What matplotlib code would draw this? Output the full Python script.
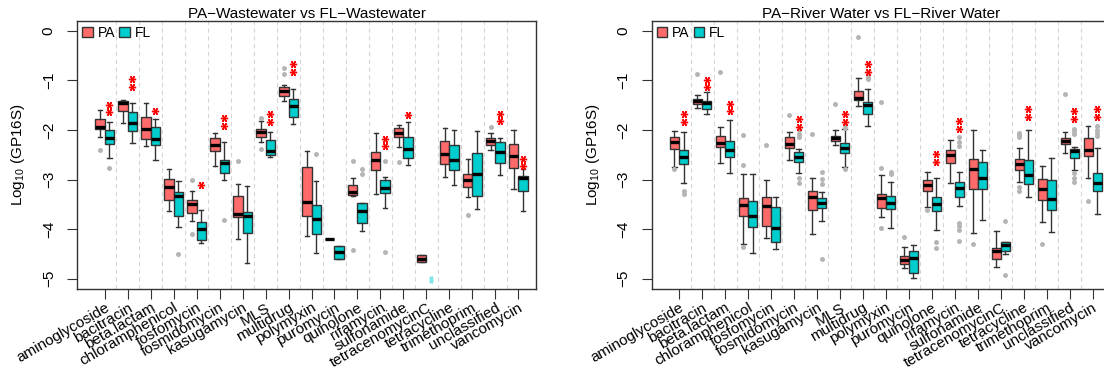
"""
Boxplots of ARG type abundance (log10 copies per 16S), particle-attached (PA)
vs free-living (FL) fractions, wastewater and river water side by side.
"""

import numpy as np
import matplotlib

matplotlib.use("Agg")
import matplotlib.pyplot as plt  # noqa: E402
from matplotlib.patches import Patch  # noqa: E402
from matplotlib import transforms  # noqa: E402

plt.rcParams["font.family"] = ["Liberation Sans", "DejaVu Sans"]
plt.rcParams["mathtext.fontset"] = "custom"
plt.rcParams["mathtext.rm"] = "Liberation Sans"

CATEGORIES = ["aminoglycoside", "bacitracin", "beta.lactam", "chloramphenicol",
              "fosfomycin", "fosmidomycin", "kasugamycin", "MLS", "multidrug",
              "polymyxin", "puromycin", "quinolone", "rifamycin", "sulfonamide",
              "tetracenomycinC", "tetracycline", "trimethoprim", "unclassified",
              "vancomycin"]

nan = np.nan

# ---- Wastewater, PA ----
W_PA_MED = [-1.94, -1.46, -1.97, -3.14, -3.49, -2.31, -3.70, -2.03, -1.22, -3.45,
            -4.19, -3.24, -2.61, -2.05, -4.60, -2.48, -3.01, -2.22, -2.52]
W_PA_Q1 = [-1.98, -1.61, -2.19, -3.42, -3.68, -2.43, -3.76, -2.13, -1.32, -3.73,
           -4.19, -3.30, -2.81, -2.15, -4.67, -2.69, -3.15, -2.30, -2.77]
W_PA_Q3 = [-1.77, -1.41, -1.73, -2.99, -3.42, -2.17, -3.34, -1.98, -1.13, -2.75,
           -4.19, -3.11, -2.44, -1.95, -4.52, -2.23, -2.88, -2.17, -2.29]
W_PA_LO = [-2.13, -1.86, -2.32, -3.63, -3.83, -2.73, -4.19, -2.25, -1.41, -4.13,
           -4.19, -3.32, -3.28, -2.34, -4.67, -2.95, -3.35, -2.40, -3.18]
W_PA_HI = [-1.59, -1.40, -1.45, -2.79, -3.22, -2.05, -3.09, -1.82, -1.10, -2.42,
           -4.19, -2.96, -2.05, -1.90, -4.52, -1.95, -2.59, -2.05, -1.99]
W_PA_OUT = [[-2.41], [], [], [], [-3.00, -4.10], [], [-2.63], [-1.75, -2.38],
            [-0.74, -0.87], [], [], [-2.63, -4.41], [], [-2.64], [], [], [-3.71],
            [-1.94], []]

# ---- Wastewater, FL (tetracenomycinC has no box) ----
W_FL_MED = [-2.16, -1.85, -2.19, -3.34, -4.00, -2.66, -3.73, -2.43, -1.51, -3.79,
            -4.46, -3.63, -3.17, -2.39, nan, -2.60, -2.88, -2.44, -2.97]
W_FL_Q1 = [-2.29, -2.01, -2.31, -3.73, -4.21, -2.87, -4.08, -2.50, -1.74, -4.10,
           -4.60, -3.87, -3.26, -2.57, nan, -2.80, -3.34, -2.67, -3.22]
W_FL_Q3 = [-1.99, -1.64, -1.94, -3.24, -3.86, -2.61, -3.65, -2.21, -1.37, -3.51,
           -4.33, -3.48, -3.01, -2.13, nan, -2.31, -2.46, -2.25, -2.92]
W_FL_LO = [-2.56, -2.27, -2.61, -3.96, -4.28, -3.00, -4.68, -2.54, -1.88, -4.48,
           -4.60, -4.03, -3.57, -2.71, nan, -3.10, -3.60, -2.91, -3.63]
W_FL_HI = [-1.83, -1.46, -1.78, -3.03, -3.61, -2.25, -3.12, -2.03, -1.18, -3.02,
           -4.33, -3.47, -2.95, -1.84, nan, -2.00, -2.01, -2.17, -2.79]
W_FL_OUT = [[-2.77], [], [], [-4.51], [], [-3.81], [], [], [], [-2.48], [],
            [-2.79, -2.89], [-2.62, -4.45], [], [], [], [], [], []]

W_SIG = ["**", "**", "*", "", "*", "**", "", "**", "**", "", "", "", "**", "*",
         "", "", "", "**", "**"]
W_SIG_Y = [-1.57, -1.05, -1.61, nan, -3.11, -1.84, nan, -1.76, -0.75, nan, nan,
           nan, -2.25, -1.70, nan, nan, nan, -1.75, -2.65]

# ---- River water, PA ----
R_PA_MED = [-2.25, -1.42, -2.26, -3.51, -3.53, -2.28, -3.36, -2.16, -1.36, -3.38,
            -4.63, -3.10, -2.50, -2.78, -4.43, -2.69, -3.18, -2.22, -2.40]
R_PA_Q1 = [-2.38, -1.47, -2.35, -3.73, -3.94, -2.37, -3.62, -2.22, -1.40, -3.57,
           -4.71, -3.23, -2.66, -3.19, -4.60, -2.80, -3.41, -2.29, -2.53]
R_PA_Q3 = [-2.13, -1.37, -2.11, -3.37, -3.35, -2.15, -3.23, -2.11, -1.21, -3.29,
           -4.54, -3.01, -2.40, -2.58, -4.37, -2.58, -2.98, -2.16, -2.17]
R_PA_LO = [-2.74, -1.55, -2.67, -4.29, -4.17, -2.60, -4.09, -2.31, -1.52, -3.75,
           -4.78, -3.55, -3.07, -4.08, -4.77, -3.04, -3.85, -2.47, -2.97]
R_PA_HI = [-2.01, -1.29, -1.93, -2.89, -3.00, -2.03, -2.96, -1.99, -0.94, -2.91,
           -4.35, -2.84, -2.21, -1.99, -4.04, -2.37, -2.72, -2.04, -1.91]
R_PA_OUT = [[-2.79], [-0.87], [-0.83], [-2.09, -2.70, -4.35], [-2.31], [-1.69],
            [-2.07], [-1.47], [-0.13], [-1.44, -2.77, -3.98], [-4.15], [-3.61],
            [], [-4.29], [], [-2.05, -2.10, -2.15, -3.14, -3.22], [-4.30],
            [-1.27], [-3.43]]

# ---- River water, FL ----
R_FL_MED = [-2.54, -1.46, -2.40, -3.73, -3.98, -2.54, -3.48, -2.36, -1.50, -3.48,
            -4.59, -3.50, -3.16, -2.97, -4.32, -2.91, -3.39, -2.42, -3.07]
R_FL_Q1 = [-2.69, -1.57, -2.54, -3.96, -4.25, -2.64, -3.58, -2.46, -1.67, -3.59,
           -4.88, -3.63, -3.36, -3.18, -4.43, -3.08, -3.62, -2.56, -3.23]
R_FL_Q3 = [-2.40, -1.42, -2.23, -3.43, -3.56, -2.45, -3.38, -2.26, -1.44, -3.32,
           -4.43, -3.36, -3.04, -2.64, -4.26, -2.61, -3.01, -2.38, -2.87]
R_FL_LO = [-3.06, -1.68, -2.87, -4.48, -4.40, -2.87, -3.84, -2.75, -1.91, -3.98,
           -4.98, -4.02, -3.54, -3.82, -4.51, -3.36, -4.05, -2.81, -3.69]
R_FL_HI = [-2.04, -1.23, -1.80, -2.89, -3.36, -2.38, -3.24, -1.97, -1.18, -3.04,
           -4.31, -2.96, -2.85, -2.40, -4.26, -1.99, -2.57, -2.35, -2.37]
R_FL_OUT = [[-3.22, -3.28], [], [], [], [], [-2.00, -2.07, -2.13, -2.97, -3.06],
            [-2.85, -2.99, -3.08, -4.60], [-1.90, -1.95, -2.79], [-0.92, -0.98],
            [-2.84, -2.89], [], [-4.26, -4.38],
            [-2.15, -2.25, -2.32, -3.88, -3.93, -4.02, -4.23], [], [-3.83, -4.93],
            [], [], [-1.97, -2.01, -2.07, -2.87, -2.96, -3.05],
            [-1.92, -1.99, -2.05, -2.12]]

R_SIG = ["**", "**", "**", "", "", "**", "", "**", "**", "", "", "**", "**", "",
         "", "**", "", "**", "**"]
R_SIG_Y = [-1.76, -1.06, -1.55, nan, nan, -1.86, nan, -1.76, -0.75, nan, nan,
           -2.56, -1.90, nan, nan, -1.66, nan, -1.70, -1.66]

# odd little cyan mark under tetracenomycinC FL in the wastewater panel
W_EXTRA_CAT = 14
W_EXTRA_Y = [-4.98, -5.05]

PA_COLOR = "#FF6A6A"
FL_COLOR = "#00CDCD"
EDGE = "#333333"

# figure geometry in pixels (reference is 1104 x 368)
FIG_W, FIG_H = 1104, 368
AX_W, AX_TOP, AX_BOT = 459, 21, 288.7
LEFT_X = [77.3, 651.7]


def box_stats(med, q1, q3, lo, hi, out):
    stats, idx = [], []
    for i in range(len(med)):
        if np.isnan(med[i]):
            continue
        stats.append(dict(med=med[i], q1=q1[i], q3=q3[i], whislo=lo[i],
                          whishi=hi[i], fliers=out[i]))
        idx.append(i)
    return stats, idx


def draw_boxes(ax, stats, pos, color):
    ax.bxp(stats, positions=pos, widths=0.4, patch_artist=True,
           manage_ticks=False, capwidths=0.2,
           boxprops=dict(facecolor=color, edgecolor=EDGE, lw=1.0),
           medianprops=dict(color="black", lw=2.4, solid_capstyle="butt"),
           whiskerprops=dict(color=EDGE, lw=1.0),
           capprops=dict(color=EDGE, lw=1.0),
           flierprops=dict(marker="o", mfc="#b5b5b5", mec="none", ms=3.6))


def draw_stars(ax, labels, ys, dx=0.2, color="red", ms=5.2, step=0.075):
    for i, (lab, y) in enumerate(zip(labels, ys)):
        if not lab:
            continue
        n = len(lab)
        offs = (np.arange(n) - (n - 1) / 2) * 2 * step
        ax.plot([i + dx] * n, y + offs, ls="none", marker=(6, 2, 90), ms=ms,
                mew=1.0, color=color, zorder=5)


def panel(ax, title, pa, fl, sig, sig_y):
    n = len(CATEGORIES)
    for b in np.arange(n - 1) + 0.5:
        ax.axvline(b, color="#d6d6d6", lw=0.8, ls=(0, (4, 3)), zorder=0)

    st, idx = box_stats(*pa)
    draw_boxes(ax, st, [i - 0.2 for i in idx], PA_COLOR)
    st, idx = box_stats(*fl)
    draw_boxes(ax, st, [i + 0.2 for i in idx], FL_COLOR)
    draw_stars(ax, sig, sig_y)

    ax.set_xlim(-1.19, 18.78)
    ax.set_ylim(-5.2, 0.2)
    ax.set_yticks([0, -1, -2, -3, -4, -5])
    ax.set_xticks(range(n))
    ax.set_xticklabels(CATEGORIES, rotation=30, ha="right",
                       rotation_mode="anchor", fontsize=11)
    shift = transforms.ScaledTranslation(4 / 100, 0, ax.figure.dpi_scale_trans)
    for lab in ax.get_xticklabels():
        lab.set_transform(lab.get_transform() + shift)
    ax.tick_params(axis="x", length=7, width=0.8, color=EDGE, pad=1.5)
    ax.tick_params(axis="y", length=7, width=0.8, color=EDGE, pad=8.5,
                   labelrotation=90, labelsize=11)
    for lab in ax.get_yticklabels():
        lab.set_va("center")
    for s in ax.spines.values():
        s.set_color(EDGE)
        s.set_linewidth(1.0)

    ax.set_title(title, fontsize=11, pad=2.5)
    ax.set_ylabel(r"Log$_{\mathregular{10}}$ (GP16S)", fontsize=11)
    ax.yaxis.set_label_coords(-50 / AX_W, 0.5)

    handles = [Patch(facecolor=PA_COLOR, edgecolor=EDGE, lw=1.0, label="PA"),
               Patch(facecolor=FL_COLOR, edgecolor=EDGE, lw=1.0, label="FL")]
    ax.legend(handles=handles, loc="upper left", ncol=2, frameon=False,
              fontsize=10, handlelength=0.75, handleheight=0.75,
              handletextpad=0.35, columnspacing=0.3, borderaxespad=0.15,
              borderpad=0.2)


def main():
    fig = plt.figure(figsize=(FIG_W / 100, FIG_H / 100), dpi=100)
    axes = [fig.add_axes([x / FIG_W, 1 - AX_BOT / FIG_H, AX_W / FIG_W,
                          (AX_BOT - AX_TOP) / FIG_H]) for x in LEFT_X]

    panel(axes[0], "PA\u2212Wastewater vs FL\u2212Wastewater",
          (W_PA_MED, W_PA_Q1, W_PA_Q3, W_PA_LO, W_PA_HI, W_PA_OUT),
          (W_FL_MED, W_FL_Q1, W_FL_Q3, W_FL_LO, W_FL_HI, W_FL_OUT),
          W_SIG, W_SIG_Y)
    axes[0].plot([W_EXTRA_CAT + 0.2] * len(W_EXTRA_Y), W_EXTRA_Y, ls="none",
                 marker=(6, 2, 90), ms=3.0, mew=0.8, color="#7fe6e6")

    panel(axes[1], "PA\u2212River Water vs FL\u2212River Water",
          (R_PA_MED, R_PA_Q1, R_PA_Q3, R_PA_LO, R_PA_HI, R_PA_OUT),
          (R_FL_MED, R_FL_Q1, R_FL_Q3, R_FL_LO, R_FL_HI, R_FL_OUT),
          R_SIG, R_SIG_Y)

    fig.savefig("out.png", dpi=100)


if __name__ == "__main__":
    main()
